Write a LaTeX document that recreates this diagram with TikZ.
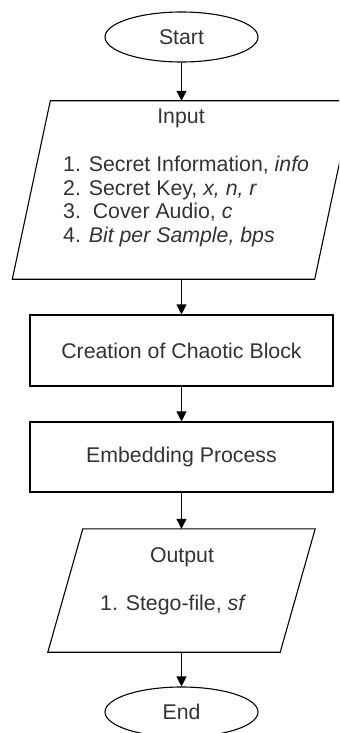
\documentclass[tikz,border=0pt]{standalone}
\usepackage{fontspec}
\setmainfont{Liberation Sans}
\usetikzlibrary{shapes.geometric,arrows.meta}
\definecolor{txt}{HTML}{333333}
\begin{document}
\begin{tikzpicture}[x=1bp,y=-1bp,
 every node/.style={font=\fontsize{21.3bp}{23.7bp}\selectfont, text=txt},
 term/.style={ellipse,draw,line width=1.1bp,minimum width=153bp,minimum height=50bp,inner sep=0},
 proc/.style={rectangle,draw,line width=1.1bp,minimum width=303bp,inner sep=0},
 pbox/.style={rectangle,draw=none,inner sep=0},
 conn/.style={line width=1.1bp,-{Triangle[length=10bp,width=10bp]}},
 para/.style={draw,line width=1.1bp,line join=miter}
]
\useasboundingbox (0,0) rectangle (339,733);
\clip (0,0) rectangle (339,733);
\fill[white] (0,0) rectangle (339,733);

% Start / End
\node[term] (start) at (181.5,37) {Start};
\node[term] (end) at (181.5,712) {End};

% Input parallelogram
\node[pbox,minimum width=340bp,minimum height=178bp] (in) at (182.5,190) {};
\draw[para] ([xshift=38bp]in.north west) -- (in.north east) -- ([xshift=-38bp]in.south east) -- (in.south west) -- cycle;
\node (intitle) at (181,118) {Input};
\node[anchor=west,align=left,inner sep=0] (inlist) at (63,201.5) {1. Secret Information, \textit{info}\\2. Secret Key, \textit{x, n, r}\\3.\ \ Cover Audio, \textit{c}\\4. \textit{Bit per Sample, bps}};

% Processes
\node[proc,minimum height=71bp] (create) at (181.5,350.5) {Creation of Chaotic Block};
\node[proc,minimum height=70bp] (embed) at (181.5,457) {Embedding Process};

% Output parallelogram
\node[pbox,minimum width=267bp,minimum height=123bp] (out) at (181.5,590.5) {};
\draw[para] ([xshift=35bp]out.north west) -- (out.north east) -- ([xshift=-35bp]out.south east) -- (out.south west) -- cycle;
\node (outtitle) at (182,557) {Output};
\node[anchor=west,inner sep=0] (outlist) at (100,605) {1. Stego-file, \textit{sf}};

% Connectors
\draw[conn] (start.south) -- (start.south |- in.north);
\draw[conn] (start.south |- in.south) -- (create.north);
\draw[conn] (create.south) -- (embed.north);
\draw[conn] (embed.south) -- (embed.south |- out.north);
\draw[conn] (embed.south |- out.south) -- (end.north);
\end{tikzpicture}
\end{document}
